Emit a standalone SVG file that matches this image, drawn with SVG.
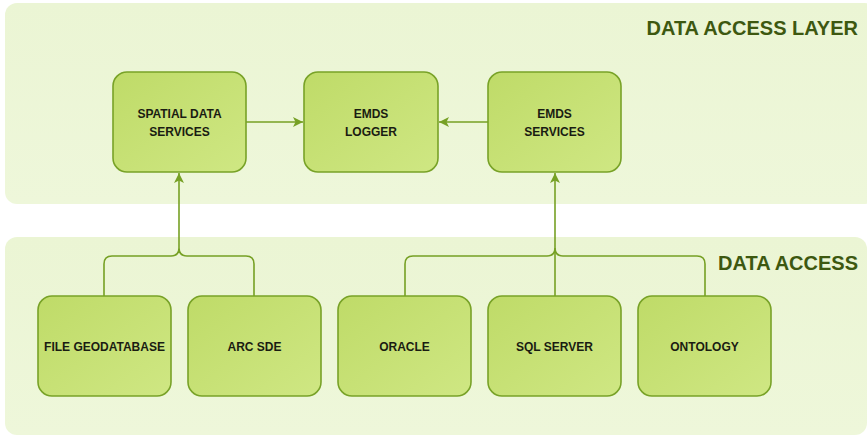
<svg xmlns="http://www.w3.org/2000/svg" width="867" height="436" viewBox="0 0 867 436">
<defs>
<linearGradient id="panel" x1="0" y1="0" x2="0" y2="1">
<stop offset="0" stop-color="#ebf5d4"/>
<stop offset="1" stop-color="#eef7da"/>
</linearGradient>
<linearGradient id="box" x1="0" y1="0" x2="1" y2="1">
<stop offset="0" stop-color="#bfdb68"/>
<stop offset="1" stop-color="#cfe783"/>
</linearGradient>
<marker id="arr" viewBox="0 0 10 10" refX="10" refY="5" markerWidth="10" markerHeight="10" markerUnits="userSpaceOnUse" orient="auto">
<path d="M0,0 L10,5 L0,10 L2.5,5 Z" fill="#76a024"/>
</marker>
<style>
.panel{fill:url(#panel);}
.box{fill:url(#box);stroke:#78a227;stroke-width:1.6;}
.lbl{font-family:"Liberation Sans",Arial,sans-serif;font-weight:bold;font-size:12px;fill:#1a1c12;text-anchor:middle;}
.ttl{font-family:"Liberation Sans",Arial,sans-serif;font-weight:bold;font-size:20px;fill:#3d5810;text-anchor:end;}
.con{fill:none;stroke:#76a024;stroke-width:1.6;}
</style>
</defs>
<rect width="867" height="436" fill="#ffffff"/>
<g id="layer-panel">
<rect class="panel" x="5" y="3" width="872" height="201" rx="12"/>
<text class="ttl" x="858" y="35">DATA ACCESS LAYER</text>
</g>
<g id="access-panel">
<rect class="panel" x="5" y="237" width="862" height="198" rx="12"/>
<text class="ttl" x="858" y="270">DATA ACCESS</text>
</g>
<g id="connectors">
<path class="con" d="M246,122 H303" marker-end="url(#arr)"/>
<path class="con" d="M488,122 H439" marker-end="url(#arr)"/>
<path class="con" d="M104,296 V264 Q104,256 112,256 H171 Q179,256 179,248 Q179,256 187,256 H246 Q254,256 254,264 V296"/>
<path class="con" d="M179,248 V173" marker-end="url(#arr)"/>
<path class="con" d="M405,296 V264 Q405,256 413,256 H547 Q555,256 555,248 Q555,256 563,256 H697 Q705,256 705,264 V296"/>
<path class="con" d="M555,296 V173" marker-end="url(#arr)"/>
</g>
<g id="spatial-data-services">
<rect class="box" x="113" y="72" width="133" height="100" rx="14"/>
<text class="lbl" x="179.5" y="118">SPATIAL DATA</text>
<text class="lbl" x="179.5" y="136">SERVICES</text>
</g>
<g id="emds-logger">
<rect class="box" x="304" y="72" width="134" height="100" rx="14"/>
<text class="lbl" x="371" y="118">EMDS</text>
<text class="lbl" x="371" y="136">LOGGER</text>
</g>
<g id="emds-services">
<rect class="box" x="488" y="72" width="133" height="100" rx="14"/>
<text class="lbl" x="554.5" y="118">EMDS</text>
<text class="lbl" x="554.5" y="136">SERVICES</text>
</g>
<g id="file-geodatabase">
<rect class="box" x="38" y="296" width="133" height="100" rx="14"/>
<text class="lbl" x="104.5" y="351">FILE GEODATABASE</text>
</g>
<g id="arc-sde">
<rect class="box" x="188" y="296" width="133" height="100" rx="14"/>
<text class="lbl" x="254.5" y="351">ARC SDE</text>
</g>
<g id="oracle">
<rect class="box" x="338" y="296" width="133" height="100" rx="14"/>
<text class="lbl" x="404.5" y="351">ORACLE</text>
</g>
<g id="sql-server">
<rect class="box" x="488" y="296" width="133" height="100" rx="14"/>
<text class="lbl" x="554.5" y="351">SQL SERVER</text>
</g>
<g id="ontology">
<rect class="box" x="638" y="296" width="133" height="100" rx="14"/>
<text class="lbl" x="704.5" y="351">ONTOLOGY</text>
</g>
</svg>
